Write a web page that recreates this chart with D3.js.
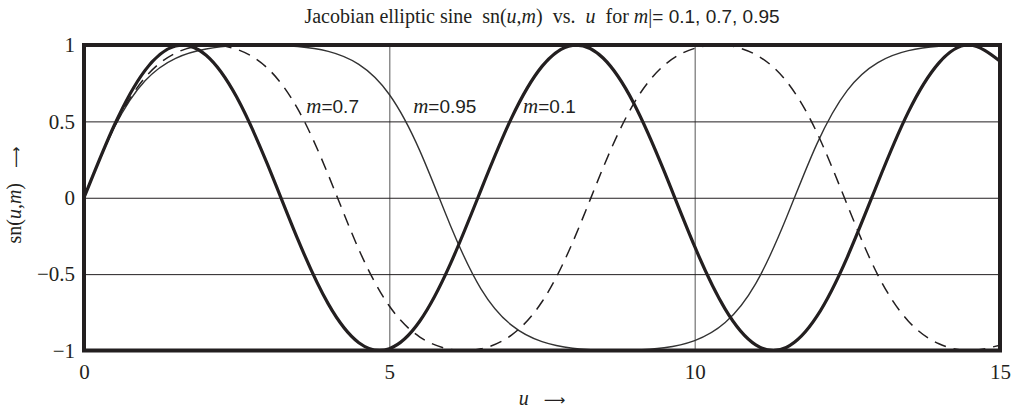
<!DOCTYPE html>
<html>
<head>
<meta charset="utf-8">
<style>
  body { margin: 0; background: #fff; }
  text { font-family: "Liberation Serif", "Times New Roman", serif; fill: #231f20; white-space: pre; }
  .sans { font-family: "Liberation Sans", Arial, sans-serif; }
  .arrow { font-family: "DejaVu Sans", sans-serif; }
</style>
</head>
<body>
<svg id="svg" width="1013" height="410"></svg>
<script src="https://cdnjs.cloudflare.com/ajax/libs/d3/7.8.5/d3.min.js"></script>
<script>
// sample points u (every half unit)
const uVals = [0, 0.5, 1, 1.5, 2, 2.5, 3, 3.5, 4, 4.5, 5, 5.5, 6, 6.5, 7, 7.5,
               8, 8.5, 9, 9.5, 10, 10.5, 11, 11.5, 12, 12.5, 13, 13.5, 14, 14.5, 15];
// sn(u,m) for m = 0.1 (thick), 0.7 (dashed), 0.95 (thin)
const sn01 = [0, 0.478, 0.834, 0.994, 0.933, 0.659, 0.223, -0.271, -0.695, -0.949, -0.988,
              -0.807, -0.433, 0.050, 0.521, 0.860, 0.998, 0.915, 0.621, 0.174, -0.319,
              -0.729, -0.963, -0.980, -0.777, -0.388, 0.100, 0.562, 0.883, 1.000, 0.894];
const sn07 = [0, 0.467, 0.787, 0.947, 0.999, 0.972, 0.850, 0.582, 0.150, -0.338, -0.709,
              -0.912, -0.992, -0.989, -0.899, -0.681, -0.294, 0.196, 0.615, 0.867, 0.978,
              0.998, 0.937, 0.764, 0.428, -0.048, -0.506, -0.808, -0.956, -1.000, -0.965];
const sn095 = [0, 0.463, 0.766, 0.913, 0.974, 0.996, 1.000, 0.990, 0.958, 0.873, 0.676,
               0.307, -0.181, -0.596, -0.834, -0.942, -0.985, -0.999, -0.998, -0.982, -0.935,
               -0.817, -0.562, -0.133, 0.351, 0.703, 0.885, 0.963, 0.992, 1.000, 0.994];

const xTicks = [0, 5, 10, 15];
const yTicks = [-1, -0.5, 0, 0.5, 1];
const yTickLabels = ["\u22121", "\u22120.5", "0", "0.5", "1"];
const xGrid = [5, 10];
const yGrid = [-0.5, 0, 0.5];

// in-plot labels "m=..."
const labelText = ["0.7", "0.95", "0.1"];
const labelU = [3.64, 5.39, 7.19];
const labelV = [0.555, 0.555, 0.555];

const ink = "#231f20";
const svg = d3.select("#svg");

const x = d3.scaleLinear().domain([0, 15]).range([84, 1000]);
const y = d3.scaleLinear().domain([-1, 1]).range([350.5, 45]);
const [x0, x1] = x.range();
const [y0, y1] = y.range();

// grid lines
let gx = svg.append("g")
  .attr("transform", "translate(0," + y0 + ")")
  .call(d3.axisBottom(x).tickValues(xGrid).tickSize(-(y0 - y1)).tickFormat(""));
gx.select(".domain").remove();
gx.selectAll("line").attr("stroke", "#555").attr("stroke-width", 1);

let gy = svg.append("g")
  .attr("transform", "translate(" + x0 + ",0)")
  .call(d3.axisLeft(y).tickValues(yGrid).tickSize(-(x1 - x0)).tickFormat(""));
gy.select(".domain").remove();
gy.selectAll("line").attr("stroke", ink).attr("stroke-width", 1);

// curves
svg.append("clipPath").attr("id", "plotclip")
  .append("rect").attr("x", x0).attr("y", y1).attr("width", x1 - x0).attr("height", y0 - y1);

const line = d3.line().x(d => x(d[0])).y(d => y(d[1])).curve(d3.curveNatural);
const series = [
  { vals: sn095, width: 1.4, dash: null, color: "#333" },
  { vals: sn07, width: 1.5, dash: "12,8", color: ink },
  { vals: sn01, width: 3.2, dash: null, color: ink }
];
svg.append("g").attr("clip-path", "url(#plotclip)")
  .selectAll("path").data(series).enter().append("path")
  .attr("d", s => line(uVals.map((u, i) => [u, s.vals[i]])))
  .attr("fill", "none")
  .attr("stroke", s => s.color)
  .attr("stroke-width", s => s.width)
  .attr("stroke-dasharray", s => s.dash);

// frame
svg.append("rect")
  .attr("x", x0).attr("y", y1).attr("width", x1 - x0).attr("height", y0 - y1)
  .attr("fill", "none").attr("stroke", ink).attr("stroke-width", 4);

// tick labels
let ax = svg.append("g")
  .attr("transform", "translate(0," + y0 + ")")
  .call(d3.axisBottom(x).tickValues(xTicks).tickSize(0).tickPadding(18).tickFormat(d3.format("d")));
ax.select(".domain").remove();
ax.attr("font-family", null).attr("font-size", null);
ax.selectAll("text").attr("font-size", 21).attr("fill", ink).attr("dy", "0.5em");

let ay = svg.append("g")
  .attr("transform", "translate(" + x0 + ",0)")
  .call(d3.axisLeft(y).tickValues(yTicks).tickSize(0).tickPadding(9)
        .tickFormat((d, i) => yTickLabels[i]));
ay.select(".domain").remove();
ay.attr("font-family", null).attr("font-size", null);
ay.selectAll("text").attr("font-size", 21).attr("fill", ink);

// curve labels
const lab = svg.append("g").selectAll("text").data(labelText).enter().append("text")
  .attr("x", (d, i) => x(labelU[i]))
  .attr("y", (d, i) => y(labelV[i]))
  .attr("font-size", 21);
lab.append("tspan").attr("font-style", "italic").text("m");
lab.append("tspan").attr("class", "sans").attr("font-size", 19).text(d => "=" + d);

// title
const title = svg.append("text")
  .attr("x", (x0 + x1) / 2).attr("y", 23)
  .attr("text-anchor", "middle").attr("font-size", 20);
title.append("tspan").text("Jacobian elliptic sine  sn(");
title.append("tspan").attr("font-style", "italic").text("u");
title.append("tspan").text(",");
title.append("tspan").attr("font-style", "italic").text("m");
title.append("tspan").text(")  vs.  ");
title.append("tspan").attr("font-style", "italic").text("u");
title.append("tspan").text("  for ");
title.append("tspan").attr("font-style", "italic").text("m");
title.append("tspan").text("|");
title.append("tspan").attr("class", "sans").attr("font-size", 19).text("= 0.1, 0.7, 0.95");

// axis titles
const ylab = svg.append("text")
  .attr("transform", "translate(21,195) rotate(-90)")
  .attr("text-anchor", "middle").attr("font-size", 20);
ylab.append("tspan").text("sn(");
ylab.append("tspan").attr("font-style", "italic").text("u");
ylab.append("tspan").text(",");
ylab.append("tspan").attr("font-style", "italic").text("m");
ylab.append("tspan").text(")   ");
ylab.append("tspan").attr("class", "arrow").attr("font-size", 15).text("\u27f6");

const xlab = svg.append("text")
  .attr("x", 542).attr("y", 405)
  .attr("text-anchor", "middle").attr("font-size", 20);
xlab.append("tspan").attr("font-style", "italic").text("u");
xlab.append("tspan").text("   ");
xlab.append("tspan").attr("class", "arrow").attr("font-size", 15).text("\u27f6");
</script>
</body>
</html>
